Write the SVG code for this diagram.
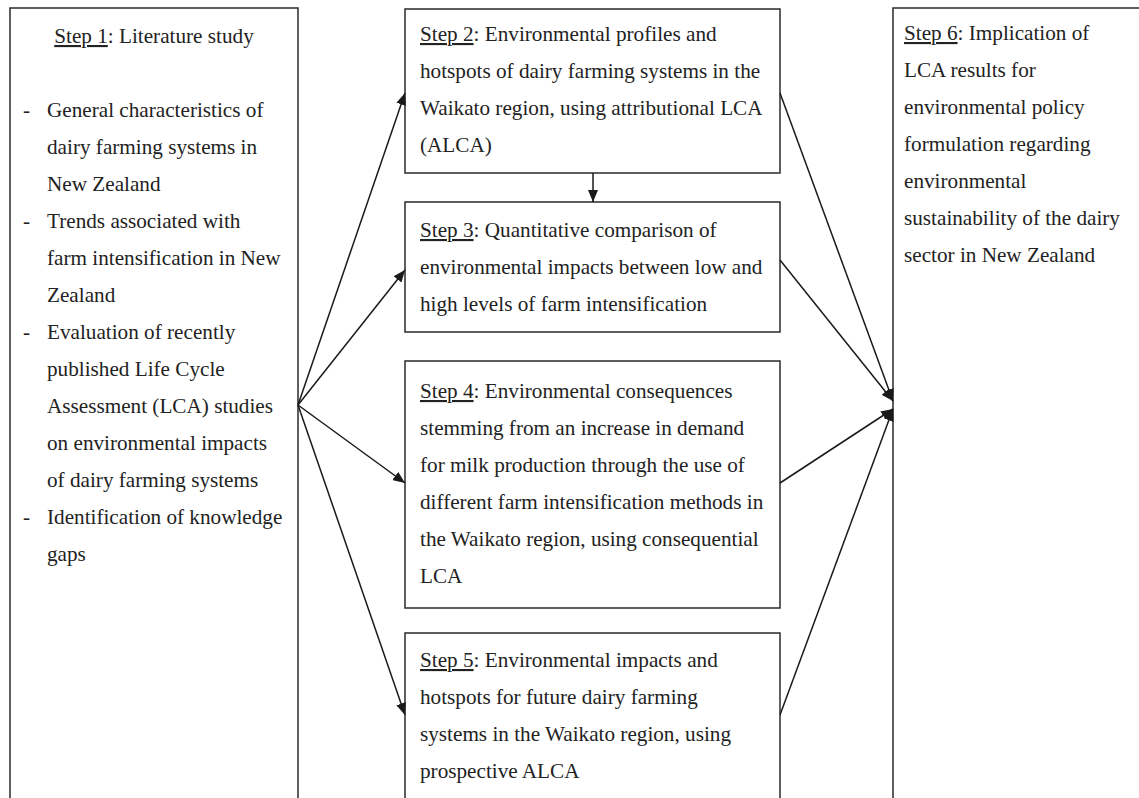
<svg xmlns="http://www.w3.org/2000/svg" width="1139" height="798" viewBox="0 0 1139 798">
  <style>
    .box { fill: #ffffff; stroke: #2a2a2a; stroke-width: 1.5; }
    .lbl { font-family: "Liberation Serif", "Times New Roman", serif; font-size: 21.2px; fill: #222222; }
    .u { text-decoration: underline; }
    .edge { fill: none; stroke: #1a1a1a; stroke-width: 1.5; marker-end: url(#arrow); }
  </style>
  <defs>
    <marker id="arrow" markerUnits="userSpaceOnUse" markerWidth="14" markerHeight="10" refX="12" refY="5" orient="auto">
      <path d="M0,0 L12,5 L0,10 Z" fill="#1a1a1a"/>
    </marker>
  </defs>
  <rect width="1139" height="798" fill="#ffffff"/>

  <!-- Step 1: literature study -->
  <g id="step1">
    <rect class="box" x="10" y="8" width="288" height="800"/>
    <text class="lbl" x="154" y="43" text-anchor="middle"><tspan class="u">Step 1</tspan>: Literature study</text>
    <text class="lbl">
      <tspan x="23" y="117">-</tspan><tspan x="47" y="117">General characteristics of</tspan>
      <tspan x="47" y="154">dairy farming systems in</tspan>
      <tspan x="47" y="191">New Zealand</tspan>
      <tspan x="23" y="228">-</tspan><tspan x="47" y="228">Trends associated with</tspan>
      <tspan x="47" y="265">farm intensification in New</tspan>
      <tspan x="47" y="302">Zealand</tspan>
      <tspan x="23" y="339">-</tspan><tspan x="47" y="339">Evaluation of recently</tspan>
      <tspan x="47" y="376">published Life Cycle</tspan>
      <tspan x="47" y="413">Assessment (LCA) studies</tspan>
      <tspan x="47" y="450">on environmental impacts</tspan>
      <tspan x="47" y="487">of dairy farming systems</tspan>
      <tspan x="23" y="524">-</tspan><tspan x="47" y="524">Identification of knowledge</tspan>
      <tspan x="47" y="561">gaps</tspan>
    </text>
  </g>

  <!-- Step 2 -->
  <g id="step2">
    <rect class="box" x="405" y="9" width="375" height="164"/>
    <text class="lbl">
      <tspan x="420" y="41"><tspan class="u">Step 2</tspan>: Environmental profiles and</tspan>
      <tspan x="420" y="78">hotspots of dairy farming systems in the</tspan>
      <tspan x="420" y="115">Waikato region, using attributional LCA</tspan>
      <tspan x="420" y="152">(ALCA)</tspan>
    </text>
  </g>

  <!-- Step 3 -->
  <g id="step3">
    <rect class="box" x="405" y="202" width="375" height="130"/>
    <text class="lbl">
      <tspan x="420" y="237"><tspan class="u">Step 3</tspan>: Quantitative comparison of</tspan>
      <tspan x="420" y="274">environmental impacts between low and</tspan>
      <tspan x="420" y="311">high levels of farm intensification</tspan>
    </text>
  </g>

  <!-- Step 4 -->
  <g id="step4">
    <rect class="box" x="405" y="361" width="375" height="247"/>
    <text class="lbl">
      <tspan x="420" y="398"><tspan class="u">Step 4</tspan>: Environmental consequences</tspan>
      <tspan x="420" y="435">stemming from an increase in demand</tspan>
      <tspan x="420" y="472">for milk production through the use of</tspan>
      <tspan x="420" y="509">different farm intensification methods in</tspan>
      <tspan x="420" y="546">the Waikato region, using consequential</tspan>
      <tspan x="420" y="583">LCA</tspan>
    </text>
  </g>

  <!-- Step 5 -->
  <g id="step5">
    <rect class="box" x="405" y="633" width="375" height="200"/>
    <text class="lbl">
      <tspan x="420" y="667"><tspan class="u">Step 5</tspan>: Environmental impacts and</tspan>
      <tspan x="420" y="704">hotspots for future dairy farming</tspan>
      <tspan x="420" y="741">systems in the Waikato region, using</tspan>
      <tspan x="420" y="778">prospective ALCA</tspan>
    </text>
  </g>

  <!-- Step 6 -->
  <g id="step6">
    <rect class="box" x="893" y="8" width="300" height="800"/>
    <text class="lbl">
      <tspan x="904" y="40"><tspan class="u">Step 6</tspan>: Implication of</tspan>
      <tspan x="904" y="77">LCA results for</tspan>
      <tspan x="904" y="114">environmental policy</tspan>
      <tspan x="904" y="151">formulation regarding</tspan>
      <tspan x="904" y="188">environmental</tspan>
      <tspan x="904" y="225">sustainability of the dairy</tspan>
      <tspan x="904" y="262">sector in New Zealand</tspan>
    </text>
  </g>

  <!-- connectors -->
  <g id="connectors">
    <line class="edge" x1="298" y1="405" x2="405" y2="93"/>
    <line class="edge" x1="298" y1="405" x2="405" y2="270"/>
    <line class="edge" x1="298" y1="405" x2="405" y2="483"/>
    <line class="edge" x1="298" y1="405" x2="405" y2="715"/>
    <line class="edge" x1="593" y1="173" x2="593" y2="202"/>
    <line class="edge" x1="780" y1="93" x2="893" y2="401"/>
    <line class="edge" x1="780" y1="260" x2="893" y2="401"/>
    <line class="edge" x1="780" y1="483" x2="893" y2="409"/>
    <line class="edge" x1="780" y1="715" x2="893" y2="409"/>
  </g>
</svg>
